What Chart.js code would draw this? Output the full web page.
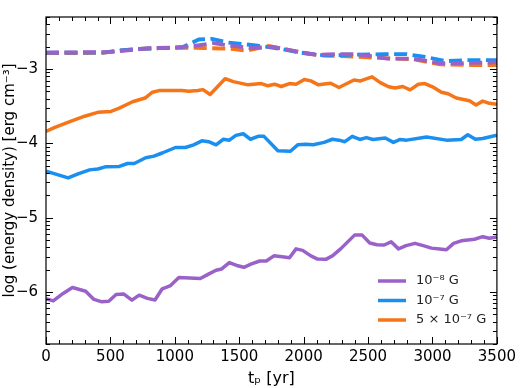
<!DOCTYPE html>
<html>
<head>
<meta charset="utf-8">
<script src="https://cdn.jsdelivr.net/npm/chart.js@4/dist/chart.umd.min.js"></script>
<style>
  html, body { margin: 0; padding: 0; background: #fff; }
  #wrap { width: 520px; height: 388px; }
</style>
</head>
<body>
<div id="wrap"><canvas id="c" width="520" height="388"></canvas></div>
<script>
// series labels
const seriesNames = ['10\u207B\u2078 G', '10\u207B\u2077 G', '5 \u00D7 10\u207B\u2077 G'];
const xTicks = [0, 500, 1000, 1500, 2000, 2500, 3000, 3500];
const yTicks = [-6, -5, -4, -3];

// 1e-8 G, solid
const tPurple = [0, 56, 133, 205, 308, 372, 428, 487, 544, 602, 667, 723, 787, 846, 902, 967, 1031, 1198, 1261, 1320, 1364, 1423, 1480, 1536, 1595, 1659, 1710, 1769, 1833, 1890, 1941, 1992, 2056, 2108, 2172, 2223, 2287, 2395, 2454, 2513, 2569, 2625, 2679, 2736, 2795, 2864, 2928, 2992, 3056, 3108, 3164, 3223, 3326, 3390, 3441, 3500];
const vPurple = [-6.09, -6.12, -6.02, -5.94, -5.99, -6.10, -6.13, -6.125, -6.035, -6.026, -6.11, -6.043, -6.086, -6.107, -5.957, -5.914, -5.806, -5.819, -5.76, -5.707, -5.69, -5.604, -5.643, -5.668, -5.622, -5.583, -5.583, -5.514, -5.527, -5.54, -5.42, -5.44, -5.514, -5.557, -5.561, -5.514, -5.42, -5.235, -5.235, -5.342, -5.364, -5.368, -5.325, -5.42, -5.377, -5.346, -5.377, -5.41, -5.423, -5.432, -5.346, -5.312, -5.29, -5.256, -5.277, -5.26];

// 1e-7 G, solid
const tBlue = [0, 69, 172, 249, 338, 402, 467, 569, 633, 685, 774, 838, 902, 1005, 1082, 1146, 1210, 1262, 1320, 1377, 1423, 1474, 1531, 1587, 1646, 1692, 1800, 1897, 1954, 2018, 2074, 2159, 2223, 2274, 2320, 2377, 2436, 2487, 2538, 2633, 2697, 2749, 2800, 2954, 3108, 3223, 3274, 3333, 3390, 3500];
const vBlue = [-4.374, -4.41, -4.465, -4.41, -4.357, -4.345, -4.314, -4.31, -4.271, -4.271, -4.194, -4.172, -4.13, -4.056, -4.056, -4.02, -3.966, -3.978, -4.02, -3.945, -3.957, -3.893, -3.871, -3.945, -3.906, -3.906, -4.10, -4.107, -4.02, -4.013, -4.02, -3.987, -3.945, -3.957, -3.978, -3.906, -3.948, -3.923, -3.948, -3.927, -3.987, -3.948, -3.957, -3.914, -3.957, -3.948, -3.884, -3.945, -3.935, -3.89];

// 5e-7 G, solid
const tOrange = [0, 69, 185, 300, 402, 505, 569, 672, 769, 826, 877, 1056, 1108, 1179, 1218, 1274, 1390, 1454, 1569, 1672, 1723, 1774, 1826, 1890, 1941, 2005, 2056, 2115, 2210, 2274, 2390, 2441, 2531, 2595, 2659, 2710, 2769, 2826, 2890, 2941, 3000, 3069, 3121, 3185, 3287, 3338, 3390, 3441, 3500];
const vOrange = [-3.84, -3.785, -3.707, -3.635, -3.583, -3.57, -3.527, -3.441, -3.39, -3.312, -3.29, -3.29, -3.30, -3.29, -3.277, -3.342, -3.13, -3.17, -3.213, -3.196, -3.226, -3.204, -3.235, -3.196, -3.204, -3.14, -3.16, -3.213, -3.191, -3.248, -3.148, -3.16, -3.105, -3.183, -3.239, -3.256, -3.235, -3.28, -3.204, -3.196, -3.239, -3.312, -3.333, -3.39, -3.428, -3.484, -3.432, -3.462, -3.475];

// dashed counterparts
const tPurpleD = [0, 500, 800, 1000, 1150, 1300, 1450, 1600, 1750, 1900, 2100, 2250, 2400, 2500, 2650, 2850, 3050, 3250, 3500];
const vPurpleD = [-2.78, -2.77, -2.72, -2.71, -2.69, -2.65, -2.69, -2.72, -2.70, -2.75, -2.81, -2.80, -2.80, -2.82, -2.86, -2.86, -2.92, -2.92, -2.91];
const tBlueD = [0, 441, 569, 723, 877, 1056, 1185, 1287, 1415, 1544, 1697, 1826, 1980, 2159, 2620, 2800, 2954, 3108, 3262, 3500];
const vBlueD = [-2.78, -2.78, -2.75, -2.73, -2.72, -2.71, -2.603, -2.594, -2.645, -2.667, -2.697, -2.73, -2.78, -2.817, -2.80, -2.80, -2.84, -2.894, -2.88, -2.88];
const tOrangeD = [0, 441, 569, 723, 877, 1056, 1159, 1287, 1441, 1556, 1723, 1826, 1980, 2133, 2338, 2569, 2851, 3056, 3262, 3500];
const vOrangeD = [-2.787, -2.783, -2.752, -2.73, -2.72, -2.714, -2.714, -2.72, -2.73, -2.752, -2.69, -2.72, -2.783, -2.817, -2.83, -2.85, -2.868, -2.938, -2.946, -2.946];

const PURPLE = '#9a62c8', BLUE = '#1a8ff0', ORANGE = '#f57518';
const FONT = "'DejaVu Sans', sans-serif";

const pts = (ts, vs) => ts.map((t, i) => ({ x: t, y: vs[i] }));

function line(label, ts, vs, color, dashed) {
    return {
        label, data: pts(ts, vs), borderColor: color, backgroundColor: color,
        borderWidth: dashed ? 3.8 : 3.5, pointRadius: 0, tension: 0, fill: false,
        borderDash: dashed ? [13, 5.5] : [], borderCapStyle: 'butt', borderJoinStyle: 'round'
    };
}

// frame, inward ticks (log-style minor ticks on y) and legend
const frameTicks = {
    id: 'frameTicks',
    afterDraw(chart) {
        const { ctx, chartArea: a, scales: { x, y } } = chart;
        ctx.save();
        ctx.strokeStyle = '#000';
        ctx.lineWidth = 1.2;
        ctx.strokeRect(a.left, a.top, a.right - a.left, a.bottom - a.top);
        ctx.lineWidth = 1;
        ctx.beginPath();
        for (let t = 0; t <= 3500; t += 100) {
            const px = Math.round(x.getPixelForValue(t)) + 0.5;
            const len = t % 500 === 0 ? 7 : 4;
            ctx.moveTo(px, a.bottom); ctx.lineTo(px, a.bottom - len);
            ctx.moveTo(px, a.top); ctx.lineTo(px, a.top + len);
        }
        for (let d = -7; d <= -3; d++) {
            for (let k = 1; k <= 9; k++) {
                const v = d + Math.log10(k);
                if (v < y.min || v > y.max) continue;
                const py = Math.round(y.getPixelForValue(v)) + 0.5;
                const len = k === 1 ? 7 : 4;
                ctx.moveTo(a.left, py); ctx.lineTo(a.left + len, py);
                ctx.moveTo(a.right, py); ctx.lineTo(a.right - len, py);
            }
        }
        ctx.stroke();

        // legend, bottom right
        const colors = [PURPLE, BLUE, ORANGE];
        ctx.font = '13px ' + FONT;
        ctx.textBaseline = 'middle';
        ctx.textAlign = 'left';
        seriesNames.forEach((name, i) => {
            const ly = 281 + i * 19.5;
            ctx.strokeStyle = colors[i];
            ctx.lineWidth = 3.5;
            ctx.beginPath();
            ctx.moveTo(378, ly); ctx.lineTo(406, ly);
            ctx.stroke();
            ctx.fillStyle = '#222';
            ctx.fillText(name, 416, ly);
        });
        ctx.restore();
    }
};

new Chart(document.getElementById('c'), {
    type: 'line',
    data: {
        datasets: [
            line(seriesNames[0], tPurple, vPurple, PURPLE, false),
            line(seriesNames[0] + ' (dashed)', tPurpleD, vPurpleD, PURPLE, true),
            line(seriesNames[1], tBlue, vBlue, BLUE, false),
            line(seriesNames[1] + ' (dashed)', tBlueD, vBlueD, BLUE, true),
            line(seriesNames[2], tOrange, vOrange, ORANGE, false),
            line(seriesNames[2] + ' (dashed)', tOrangeD, vOrangeD, ORANGE, true)
        ]
    },
    options: {
        responsive: false,
        animation: false,
        layout: { padding: { top: 4, right: 19, left: 0, bottom: 0 } },
        plugins: { legend: { display: false }, tooltip: { enabled: false } },
        scales: {
            x: {
                type: 'linear', min: 0, max: 3500,
                afterBuildTicks: s => { s.ticks = xTicks.map(v => ({ value: v })); },
                afterFit: s => { s.height = 44; },
                grid: { display: false, drawTicks: false },
                border: { display: false },
                ticks: { color: '#000', padding: 4, maxRotation: 0, callback: v => String(v), font: { family: FONT, size: 15 } },
                title: { display: true, text: 't\u209A [yr]', color: '#000', padding: { top: 1, bottom: 0 }, font: { family: FONT, size: 16 } }
            },
            y: {
                type: 'linear', min: -6.7, max: -2.3,
                afterBuildTicks: s => { s.ticks = yTicks.map(v => ({ value: v })); },
                afterFit: s => { s.width = 46; },
                grid: { display: false, drawTicks: false },
                border: { display: false },
                ticks: { color: '#000', padding: 8, callback: v => String(v).replace('-', '\u2212'), font: { family: FONT, size: 15 } },
                title: { display: true, text: 'log (energy density) [erg cm\u207B\u00B3]', color: '#000', padding: { top: 1, bottom: 0 }, font: { family: FONT, size: 15 } }
            }
        }
    },
    plugins: [frameTicks]
});
</script>
</body>
</html>
